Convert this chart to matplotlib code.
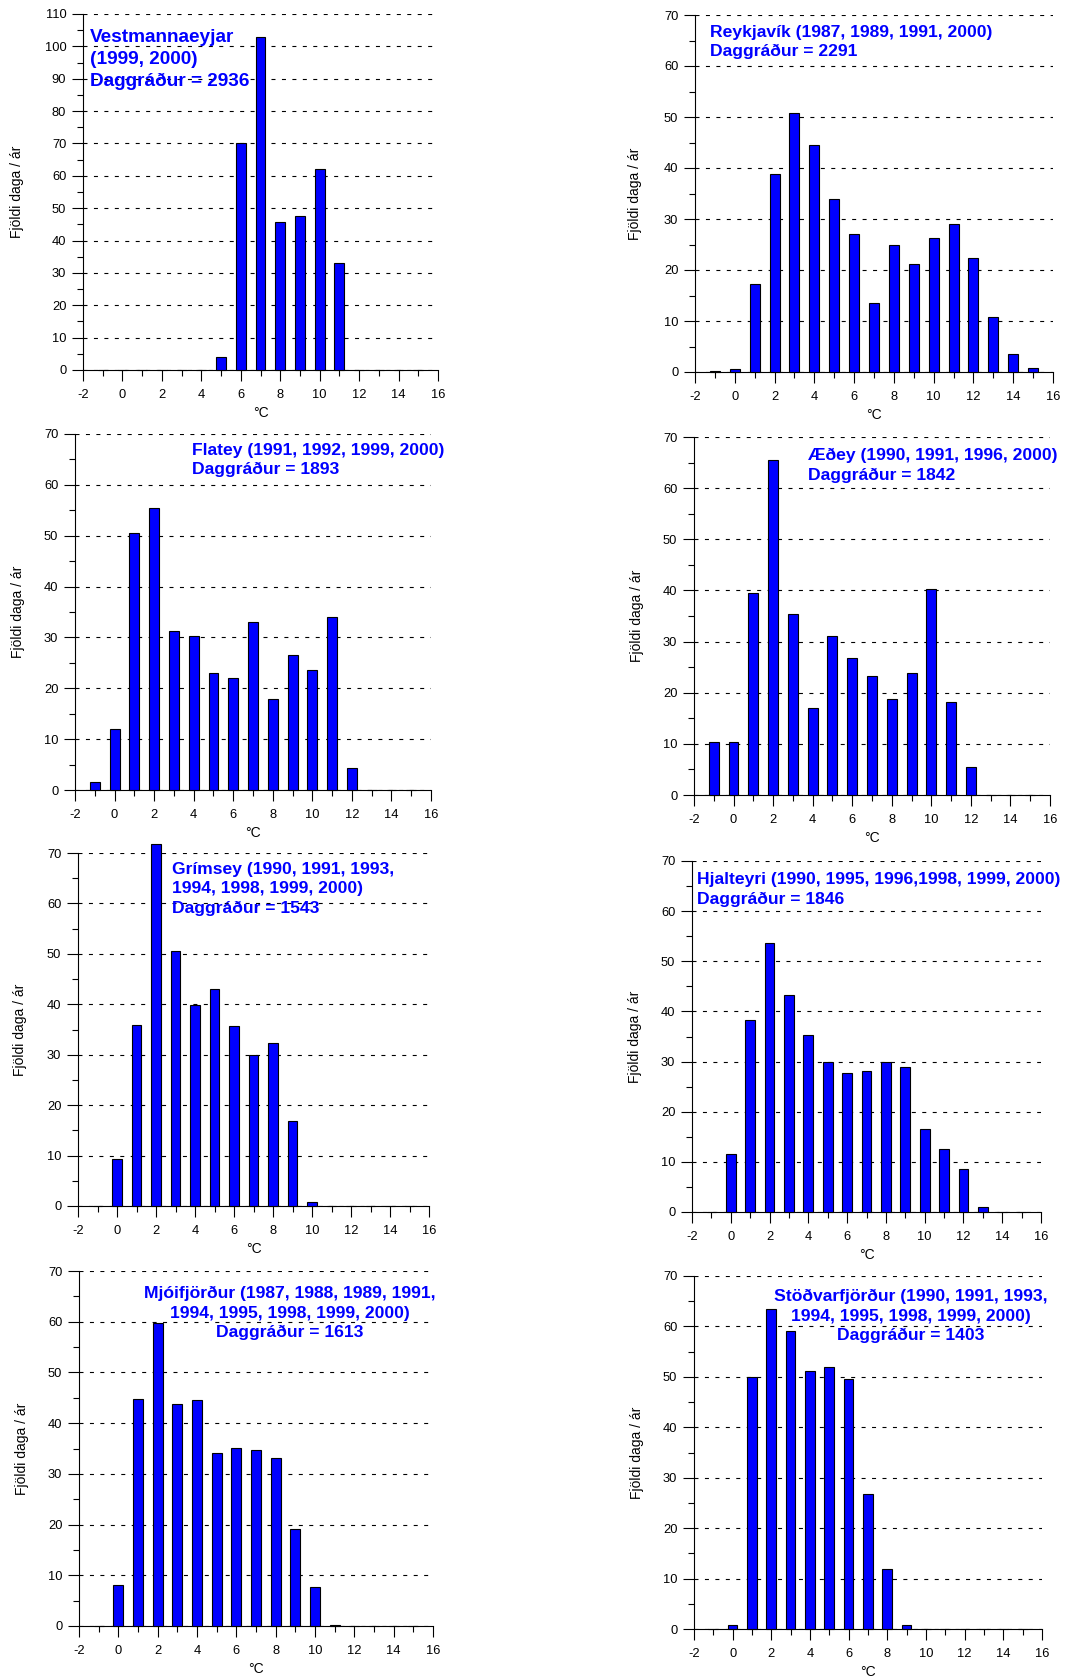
import matplotlib.pyplot as plt
from matplotlib.ticker import MultipleLocator

plt.rcParams["font.family"] = ["Liberation Sans", "DejaVu Sans"]
plt.rcParams["axes.unicode_minus"] = False

# Hitastigsbil (°C) og fjöldi daga á ári fyrir hverja stöð
temps = [-1, 0, 1, 2, 3, 4, 5, 6, 7, 8, 9, 10, 11, 12, 13, 14, 15]

vestmannaeyjar = [0, 0, 0, 0, 0, 0, 4.0, 70.0, 103.0, 45.6, 47.7, 62.0, 33.1, 0, 0, 0, 0]
reykjavik = [0.1, 0.6, 17.2, 38.8, 50.8, 44.5, 34.0, 27.0, 13.5, 25.0, 21.2, 26.3, 29.0, 22.3, 10.8, 3.5, 0.8]
flatey = [1.6, 12.0, 50.5, 55.5, 31.3, 30.3, 23.1, 22.1, 33.1, 17.8, 26.5, 23.6, 34.1, 4.3, 0, 0, 0]
aedey = [10.3, 10.3, 39.5, 65.6, 35.3, 17.1, 31.0, 26.8, 23.3, 18.8, 23.8, 40.2, 18.1, 5.5, 0, 0, 0]
grimsey = [0, 9.4, 35.8, 71.7, 50.5, 39.9, 43.0, 35.6, 29.9, 32.3, 16.8, 0.7, 0, 0, 0, 0, 0]
hjalteyri = [0, 11.5, 38.3, 53.7, 43.2, 35.2, 30.0, 27.7, 28.2, 29.9, 29.0, 16.6, 12.6, 8.5, 0.9, 0, 0]
mjoifjordur = [0, 8.1, 44.8, 59.7, 43.8, 44.6, 34.2, 35.1, 34.7, 33.1, 19.2, 7.6, 0.1, 0, 0, 0, 0]
stodvarfjordur = [0, 0.8, 49.9, 63.5, 59.0, 51.2, 52.0, 49.6, 26.8, 11.8, 0.8, 0, 0, 0, 0, 0, 0]

titles = [
    "Vestmannaeyjar\n(1999, 2000)\nDaggráður = 2936",
    "Reykjavík (1987, 1989, 1991, 2000)\nDaggráður = 2291",
    "Flatey (1991, 1992, 1999, 2000)\nDaggráður = 1893",
    "Æðey (1990, 1991, 1996, 2000)\nDaggráður = 1842",
    "Grímsey (1990, 1991, 1993,\n1994, 1998, 1999, 2000)\nDaggráður = 1543",
    "Hjalteyri (1990, 1995, 1996,1998, 1999, 2000)\nDaggráður = 1846",
    "Mjóifjörður (1987, 1988, 1989, 1991,\n1994, 1995, 1998, 1999, 2000)\nDaggráður = 1613",
    "Stöðvarfjörður (1990, 1991, 1993,\n1994, 1995, 1998, 1999, 2000)\nDaggráður = 1403",
]
series = [vestmannaeyjar, reykjavik, flatey, aedey, grimsey, hjalteyri, mjoifjordur, stodvarfjordur]
y_max = [110, 70, 70, 70, 70, 70, 70, 70]

W, H = 1065, 1677
# axes boxes in pixels: left, top, right, bottom
boxes = [
    (83, 14, 438, 370),
    (695, 15, 1053, 372),
    (75, 434, 431, 790),
    (694, 437, 1050, 795),
    (78, 853, 429, 1206),
    (692, 861, 1041, 1212),
    (79, 1271, 433, 1626),
    (694, 1276, 1042, 1629),
]
# station text: x, y (axes fraction), alignment, size
text_pos = [
    (0.02, 0.958, "left", 13.7),
    (0.042, 0.973, "left", 12.6),
    (0.329, 0.975, "left", 12.6),
    (0.32, 0.969, "left", 12.6),
    (0.268, 0.974, "left", 12.6),
    (0.014, 0.968, "left", 12.6),
    (0.596, 0.957, "center", 12.6),
    (0.624, 0.963, "center", 12.6),
]
ylab_off = [66, 60, 57, 57, 58, 57, 57, 57]

fig = plt.figure(figsize=(W / 100, H / 100), dpi=100)

for i, vals in enumerate(series):
    l, t, r, b = boxes[i]
    ax = fig.add_axes([l / W, 1 - b / H, (r - l) / W, (b - t) / H])

    ax.bar(temps, vals, width=0.5, color="#0000ff", edgecolor="black",
           linewidth=0.8, zorder=3, clip_on=False)

    ax.set_xlim(-2, 16)
    ax.set_ylim(0, y_max[i])
    ax.xaxis.set_major_locator(MultipleLocator(2))
    ax.xaxis.set_minor_locator(MultipleLocator(1))
    ax.yaxis.set_major_locator(MultipleLocator(10))
    ax.yaxis.set_minor_locator(MultipleLocator(5))
    ax.tick_params(which="major", direction="out", length=8, width=0.8,
                   labelsize=9.3, pad=4)
    ax.tick_params(axis="x", which="major", pad=5.5)
    ax.tick_params(which="minor", direction="out", length=4, width=0.8)

    for side in ("top", "right"):
        ax.spines[side].set_visible(False)
    for side in ("left", "bottom"):
        ax.spines[side].set_linewidth(0.8)

    ax.set_axisbelow(True)
    ax.yaxis.grid(True, which="major", color="black", linewidth=0.8,
                  linestyle=(0, (3.6, 5.8)))

    ax.set_ylabel("Fjöldi daga / ár", fontsize=10)
    ax.yaxis.set_label_coords(-ylab_off[i] / (r - l), 0.5)
    ax.yaxis.label.set_va("center")
    ax.set_xlabel("°C", fontsize=10)
    ax.xaxis.set_label_coords(0.5, -43 / (b - t))
    ax.xaxis.label.set_va("center")

    tx, ty, ha, fs = text_pos[i]
    ax.text(tx, ty, titles[i], transform=ax.transAxes, ha=ha, va="top",
            multialignment="center" if ha == "center" else "left",
            color="#0000ff", fontsize=fs, fontweight="bold", linespacing=1.36,
            zorder=5)

fig.savefig("out.png", dpi=100)
